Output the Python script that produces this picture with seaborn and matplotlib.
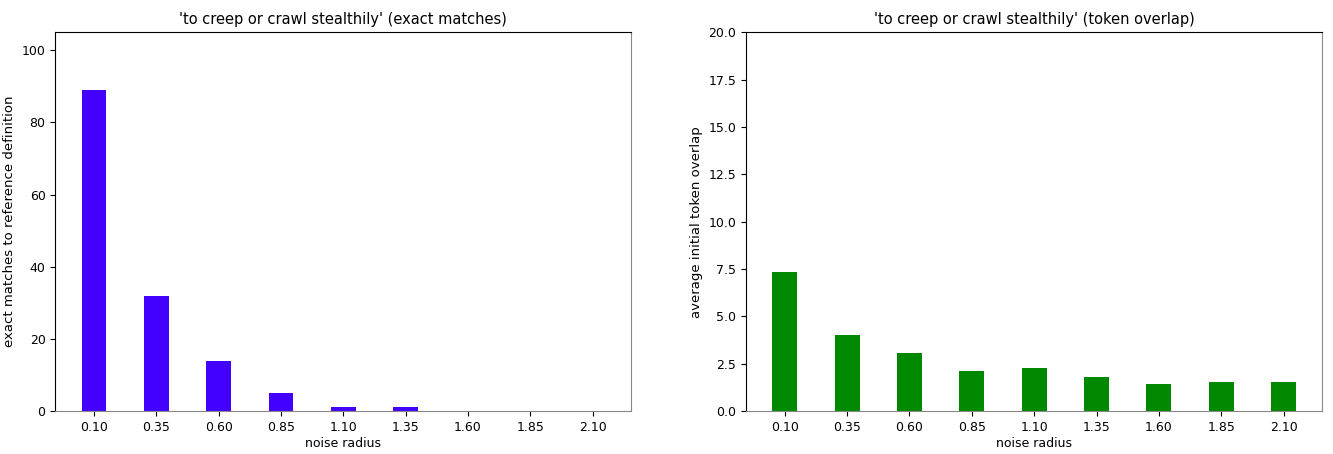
import numpy as np
import pandas as pd
import matplotlib
matplotlib.use("Agg")
import matplotlib.pyplot as plt
import seaborn as sns

# noise radius categories
radius_labels = ["0.10", "0.35", "0.60", "0.85", "1.10", "1.35", "1.60", "1.85", "2.10"]
# exact matches to reference definition
exact_matches = [89, 32, 14, 5, 1, 1, 0, 0, 0]
# average initial token overlap
token_overlap = [7.35, 4.02, 3.07, 2.12, 2.25, 1.77, 1.43, 1.51, 1.51]

phrase = "'to creep or crawl stealthily'"

df = pd.DataFrame({
    "radius": radius_labels,
    "exact": exact_matches,
    "overlap": token_overlap,
})

plt.rcParams["font.family"] = ["DejaVu Sans"]

fig = plt.figure(figsize=(13.33, 4.54), dpi=100)
ax1 = fig.add_axes([0.0415, 0.0947, 0.4321, 0.8342])
ax2 = fig.add_axes([0.5597, 0.0947, 0.4323, 0.8342])

W = 0.4
sns.barplot(data=df, x="radius", y="exact", order=radius_labels, color="#4400ff",
            saturation=1, width=W, ax=ax1, errorbar=None)
sns.barplot(data=df, x="radius", y="overlap", order=radius_labels, color="#008800",
            saturation=1, width=W, ax=ax2, errorbar=None)

ax1.set_ylim(0, 105)
ax2.set_ylim(0, 20)
ax2.set_yticks(np.arange(0, 20.1, 2.5))

for ax in (ax1, ax2):
    ax.set_xlim(-0.62, len(radius_labels) - 1 + 0.62)
    ax.set_xlabel("noise radius", fontsize=9, labelpad=2)
    ax.tick_params(labelsize=9)
    ax.spines["bottom"].set_color("#888888")
    ax.spines["right"].set_color("#888888")

ax1.set_ylabel("exact matches to reference definition", fontsize=9.5)
ax2.set_ylabel("average initial token overlap", fontsize=9.5)
ax1.set_title(phrase + " (exact matches)", fontsize=10.5)
ax2.set_title(phrase + " (token overlap)", fontsize=10.5)

fig.savefig("out.png", dpi=100)
